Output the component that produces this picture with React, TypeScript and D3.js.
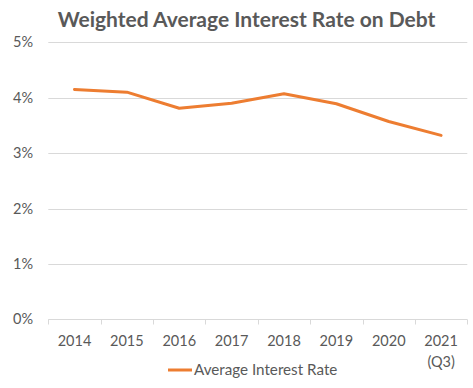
import React from "react";
import * as d3 from "d3";

const categories = ["2014", "2015", "2016", "2017", "2018", "2019", "2020", "2021\n(Q3)"];
const rates = [4.15, 4.1, 3.81, 3.9, 4.07, 3.89, 3.57, 3.32];
const yTicks = [0, 1, 2, 3, 4, 5];
const title = "Weighted Average Interest Rate on Debt";
const seriesName = "Average Interest Rate";

const W = 473, H = 388;
const FONT = "Lato, 'Open Sans', sans-serif";
const TEXT = "#595959";

export default function App() {
  const x = d3.scaleBand<string>().domain(categories).range([48.3, 467.3]);
  const y = d3.scaleLinear().domain([0, 5]).range([319.3, 42.3]);
  const line = d3
    .line<number>()
    .x((_, i) => (x(categories[i]) as number) + x.bandwidth() / 2)
    .y((d) => y(d));
  const bounds = [...categories.map((c) => x(c) as number), 467.3];

  return (
    <svg width={W} height={H} style={{ position: "absolute", left: 0, top: 0, background: "#fff" }}>
      <rect width={W} height={H} fill="#fff" />
      <text x={246.5} y={27} textAnchor="middle" fontFamily={FONT} fontWeight={700} fontSize={21} fill={TEXT}>
        {title}
      </text>
      {yTicks.map((t) => (
        <g key={t}>
          <line x1={48.3} x2={467.3} y1={Math.round(y(t)) + 0.5} y2={Math.round(y(t)) + 0.5} stroke="#D9D9D9" strokeWidth={1} />
          <text x={33} y={y(t)} dy="0.35em" textAnchor="end" fontFamily={FONT} fontSize={14.5} fill={TEXT}>
            {t}%
          </text>
        </g>
      ))}
      {bounds.map((b, i) => (
        <line key={i} x1={Math.round(b) + 0.5} x2={Math.round(b) + 0.5} y1={319.5} y2={324.5} stroke="#D9D9D9" strokeWidth={1} />
      ))}
      {categories.map((c) => (
        <text key={c} x={(x(c) as number) + x.bandwidth() / 2} y={346} textAnchor="middle" fontFamily={FONT} fontSize={14.5} fill={TEXT}>
          {c.split("\n").map((s, i) => (
            <tspan key={i} x={(x(c) as number) + x.bandwidth() / 2} dy={i === 0 ? 0 : 21}>
              {s}
            </tspan>
          ))}
        </text>
      ))}
      <path d={line(rates) || ""} fill="none" stroke="#ED7D31" strokeWidth={3} strokeLinejoin="round" strokeLinecap="round" />
      <line x1={168} x2={192} y1={370} y2={370} stroke="#ED7D31" strokeWidth={3} />
      <text x={194} y={370} dy="0.35em" fontFamily={FONT} fontSize={15.2} fill={TEXT}>
        {seriesName}
      </text>
    </svg>
  );
}
